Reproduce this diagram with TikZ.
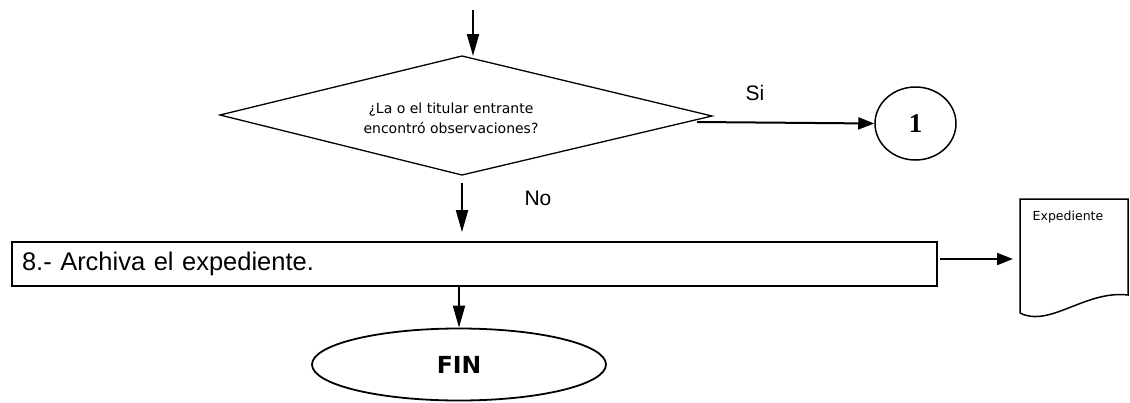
\documentclass[tikz,border=0pt]{standalone}
\usepackage{fontspec}
\setmainfont{Liberation Sans}
\newfontfamily\dejavu{DejaVu Sans}
\newfontfamily\timesb{Liberation Serif}
\usetikzlibrary{shapes.geometric,arrows.meta}
\begin{document}
\begin{tikzpicture}[x=1pt,y=-1pt,
  flowline/.style={line width=2pt,-{Triangle[length=22pt,width=12pt]}},
  sideline/.style={line width=2pt,-{Triangle[length=16pt,width=12pt]}},
  shapeline/.style={draw,line width=1.3pt},
  dtext/.style={align=center,inner sep=0pt,font=\dejavu\fontsize{14}{20}\selectfont},
  process/.style={rectangle,draw,line width=1.8pt,minimum width=925pt,minimum height=44pt,text width=905pt,align=left,inner xsep=10pt,font=\fontsize{25.5}{28}\selectfont},
  terminal/.style={ellipse,draw,line width=1.8pt,minimum width=294pt,minimum height=72pt,inner sep=0pt,font=\dejavu\bfseries\fontsize{23.5}{26}\selectfont},
  connector/.style={ellipse,draw,line width=1.5pt,minimum width=81pt,minimum height=73pt,inner sep=0pt,font=\timesb\bfseries\fontsize{27}{30}\selectfont},
  lbl/.style={font=\fontsize{21}{24}\selectfont,inner sep=0pt}
]
\useasboundingbox (0,0) rectangle (1130,402);
\fill[white] (0,0) rectangle (1130,402);

% decision diamond
\coordinate (dtop) at (462,56);
\coordinate (dright) at (712,116);
\coordinate (dbot) at (462,175);
\coordinate (dleft) at (220,115);
\draw[shapeline] (dtop) -- (dright) -- (dbot) -- (dleft) -- cycle;
\node[dtext] (d) at (451,118) {¿La o el titular entrante\\encontró observaciones?};

% other nodes
\node[connector] (c1) at (915.5,123.5) {1};
\node[process] (p8) at (474.5,264) {8.- Archiva el expediente.};
\node[terminal] (fin) at (459,364.5) {FIN};

% document shape
\draw[line width=1.5pt] (1020,313) -- (1020,199) -- (1128,199) -- (1128,295)
  .. controls (1085,290) and (1050,328) .. (1020,313);
\node[font=\dejavu\fontsize{12.5}{14}\selectfont] (doc) at (1068,217) {Expediente};
\coordinate (docin) at (1013,259);

% connectors
\coordinate (start) at (473,10);
\draw[flowline] (start) -- (start |- dtop);
\coordinate (siout) at (697,122);
\draw[sideline] (siout) -- (c1.west);
\node[lbl] (si) at (755,93) {Si};
\draw[flowline,shorten <=8pt,shorten >=9pt] (dbot) -- (dbot |- p8.north);
\node[lbl] (no) at (538,198) {No};
\coordinate (p8out) at (940,259);
\draw[sideline] (p8out) -- (docin);
\coordinate (p8bot) at (459,286);
\draw[flowline] (p8bot) -- (fin.north);
\end{tikzpicture}
\end{document}
